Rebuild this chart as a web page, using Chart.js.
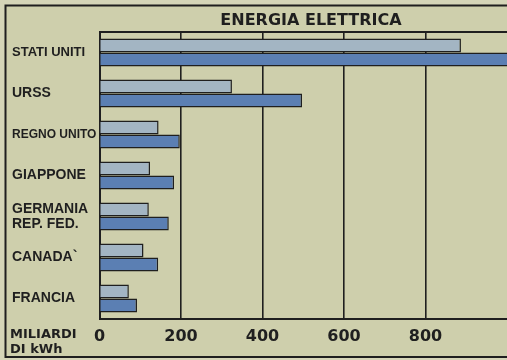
<!DOCTYPE html>
<html>
<head>
<meta charset="utf-8">
<title>Energia elettrica</title>
<script src="https://cdn.jsdelivr.net/npm/chart.js@4/dist/chart.umd.min.js"></script>
<style>
  html, body { margin: 0; padding: 0; background: #cecfac; }
  #wrap { width: 507px; height: 360px; }
</style>
</head>
<body>
<div id="wrap"><canvas id="energiaChart" width="507" height="360"></canvas></div>
<script>
// Paesi e produzione di energia elettrica (miliardi di kWh)
const paesi = ["STATI UNITI", "URSS", "REGNO UNITO", "GIAPPONE", ["GERMANIA", "REP. FED."], "CANADA`", "FRANCIA"];
const produzionePrima = [887, 325, 145, 124, 121, 108, 72];
const produzioneDopo = [1050, 497, 197, 183, 170, 144, 92];
const tickX = [0, 200, 400, 600, 800];

const inchiostro = "#1f1f1f";
const carta = "#cecfac";

// Sfondo, cornice, titolo e unità di misura
const cornicePlugin = {
    id: "cornice",
    beforeDraw(chart) {
        const ctx = chart.ctx;
        ctx.save();
        ctx.fillStyle = "#d5d5b8";
        ctx.fillRect(0, 0, chart.width, chart.height);
        ctx.fillStyle = carta;
        ctx.fillRect(5, 5, chart.width - 5, 352);
        ctx.restore();
    },
    afterDraw(chart) {
        const ctx = chart.ctx;
        const area = chart.chartArea;
        ctx.save();
        ctx.strokeStyle = inchiostro;
        ctx.lineWidth = 2;
        // cornice esterna, aperta a destra
        ctx.beginPath();
        ctx.moveTo(chart.width + 2, 5.5);
        ctx.lineTo(5.5, 5.5);
        ctx.lineTo(5.5, 357);
        ctx.lineTo(chart.width + 2, 357);
        ctx.stroke();
        // bordo superiore del grafico
        ctx.beginPath();
        ctx.moveTo(area.left, area.top);
        ctx.lineTo(chart.width + 2, area.top);
        ctx.stroke();

        ctx.fillStyle = inchiostro;
        ctx.textAlign = "center";
        ctx.textBaseline = "middle";
        ctx.font = "bold 16px 'DejaVu Sans'";
        ctx.fillText("ENERGIA ELETTRICA", 311, 21);

        ctx.textAlign = "left";
        ctx.font = "bold 13px 'DejaVu Sans'";
        ctx.fillText("MILIARDI", 10, 335);
        ctx.fillText("DI kWh", 10, 350);
        ctx.restore();
    }
};

const ctx = document.getElementById("energiaChart").getContext("2d");
new Chart(ctx, {
    type: "bar",
    data: {
        labels: paesi,
        datasets: [{
            label: "prima",
            data: produzionePrima,
            backgroundColor: "#a3b5c3",
            borderColor: inchiostro,
            borderWidth: 1.5
        }, {
            label: "dopo",
            data: produzioneDopo,
            backgroundColor: "#5b7fb3",
            borderColor: inchiostro,
            borderWidth: 1.5
        }]
    },
    options: {
        indexAxis: "y",
        responsive: false,
        animation: false,
        layout: { padding: { top: 32, left: 12, right: 0, bottom: 0 } },
        datasets: { bar: { categoryPercentage: 0.68, barPercentage: 1 } },
        plugins: {
            legend: { display: false },
            tooltip: { enabled: false }
        },
        scales: {
            x: {
                min: 0,
                max: 1000,
                afterBuildTicks(scale) {
                    scale.ticks = tickX.map(v => ({ value: v }));
                },
                afterFit(scale) {
                    scale.height = 41;
                },
                ticks: {
                    color: inchiostro,
                    padding: 0,
                    font: { family: "DejaVu Sans", weight: "bold", size: 16 }
                },
                grid: {
                    drawTicks: true,
                    tickLength: 8,
                    tickColor: "rgba(0,0,0,0)",
                    lineWidth: 1.6,
                    color: c => (c.tick && c.tick.value === 0 ? "rgba(0,0,0,0)" : inchiostro)
                },
                border: { color: inchiostro, width: 2 }
            },
            y: {
                afterFit(scale) {
                    scale.width = 87.5;
                },
                ticks: {
                    crossAlign: "far",
                    color: inchiostro,
                    font: c => {
                        let size = 14;
                        if (c.tick && c.tick.label === "REGNO UNITO") size = 12;
                        if (c.tick && c.tick.label === "STATI UNITI") size = 13;
                        return { family: "Liberation Sans", weight: "bold", size: size, lineHeight: 1.1 };
                    }
                },
                grid: { display: false },
                border: { color: inchiostro, width: 2 }
            }
        }
    },
    plugins: [cornicePlugin]
});
</script>
</body>
</html>
